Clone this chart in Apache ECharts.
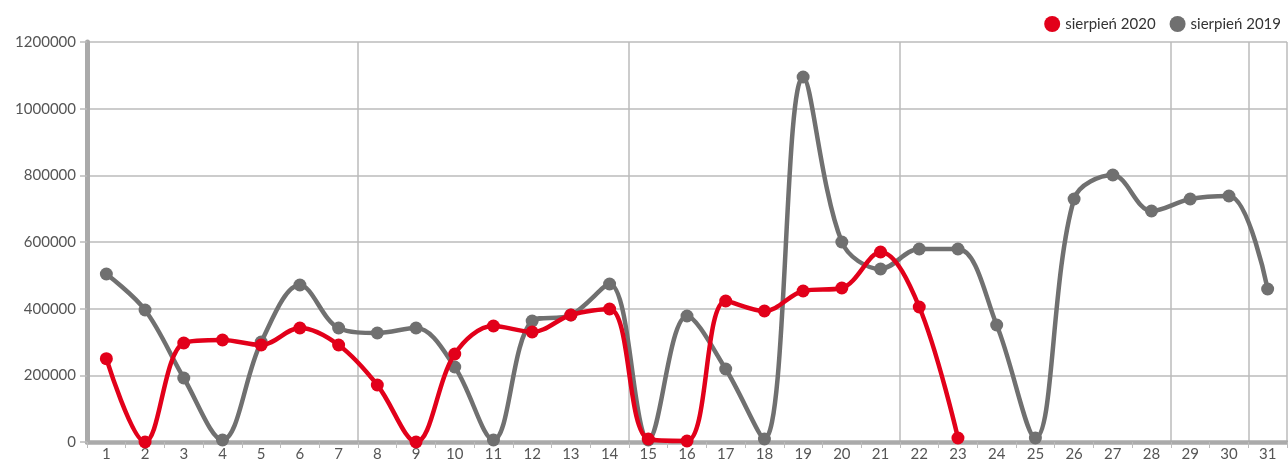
<!DOCTYPE html>
<html><head><meta charset="utf-8">
<script src="https://cdn.jsdelivr.net/npm/echarts@6/dist/echarts.min.js"></script>
<style>html,body{margin:0;padding:0;background:#fff}#c{width:1288px;height:462px}</style>
</head><body><div id="c"></div>
<script>
const categories = ['1','2','3','4','5','6','7','8','9','10','11','12','13','14','15','16','17','18','19','20','21','22','23','24','25','26','27','28','29','30','31'];
const yTicks = [0, 200000, 400000, 600000, 800000, 1000000, 1200000];
const name2020 = 'sierpień 2020';
const name2019 = 'sierpień 2019';
const values2020 = [250000, 0, 297000, 306000, 291000, 342000, 291000, 171000, 0, 264000, 348000, 330000, 381000, 399000, 9000, 3000, 423000, 393000, 453000, 462000, 570000, 405000, 12000, null, null, null, null, null, null, null, null];
const values2019 = [504000, 396000, 192000, 6000, 300000, 471000, 342000, 327000, 342000, 225000, 6000, 363000, 381000, 474000, 6000, 378000, 219000, 9000, 1095000, 600000, 519000, 579000, 579000, 351000, 12000, 729000, 801000, 693000, 729000, 738000, 459000];

const font = 'Lato, "Open Sans", sans-serif';
const chart = echarts.init(document.getElementById('c'), null, {renderer: 'canvas'});
chart.setOption({
  animation: false,
  color: ['#e2001a', '#707070'],
  textStyle: {fontFamily: font},
  legend: {
    right: 2, top: 11, itemWidth: 16, itemHeight: 16, itemGap: 14, icon: 'circle',
    textStyle: {fontFamily: font, fontSize: 15, color: '#333'},
    data: [name2020, name2019]
  },
  grid: {left: 87, right: 1, top: 42, bottom: 20, containLabel: false},
  xAxis: {
    type: 'category', data: categories, boundaryGap: true,
    axisLine: {lineStyle: {color: '#aaaaaa', width: 4.5}},
    axisTick: {show: true, length: 6, lineStyle: {color: '#bbbbbb', width: 1}, interval: 0},
    axisLabel: {fontFamily: font, fontSize: 15, color: '#555', margin: 5, interval: 0},
    splitLine: {show: true, interval: 6, lineStyle: {color: '#bbbbbb', width: 1.5}}
  },
  yAxis: {
    type: 'value', min: yTicks[0], max: yTicks[yTicks.length - 1], interval: yTicks[1] - yTicks[0],
    axisLine: {show: true, lineStyle: {color: '#aaaaaa', width: 5}},
    axisTick: {show: true, length: 7, lineStyle: {color: '#bbbbbb', width: 1.5}},
    axisLabel: {fontFamily: font, fontSize: 15, color: '#555', margin: 11, formatter: function (v) { return String(v); }},
    splitLine: {show: true, lineStyle: {color: '#bbbbbb', width: 1.5}}
  },
  series: [
    {name: name2019, type: 'line', data: values2019, smooth: 0.35, symbol: 'circle', symbolSize: 13,
     lineStyle: {width: 4.5}, itemStyle: {color: '#707070'}, z: 2},
    {name: name2020, type: 'line', data: values2020, smooth: 0.35, symbol: 'circle', symbolSize: 13,
     lineStyle: {width: 4.5}, itemStyle: {color: '#e2001a'}, z: 3}
  ]
});
</script></body></html>
